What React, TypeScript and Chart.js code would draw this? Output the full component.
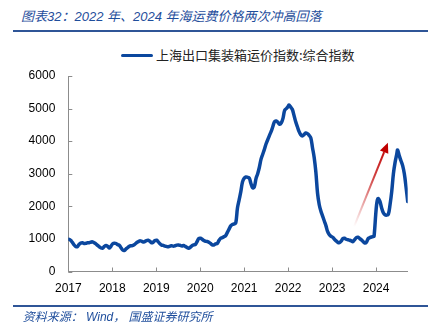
import React, { useEffect, useRef } from "react";
import { Chart, registerables } from "chart.js";

Chart.register(...registerables);

const titleText = "图表32：2022 年、2024 年海运费价格两次冲高回落";
const sourceText = "资料来源： Wind， 国盛证券研究所";
const seriesName = "上海出口集装箱运价指数:综合指数";

const yearTicks: number[] = [2017, 2018, 2019, 2020, 2021, 2022, 2023, 2024];
const valueTicks: number[] = [0, 1000, 2000, 3000, 4000, 5000, 6000];

const dates: string[] = [
  "2017-01-06", "2017-01-20", "2017-02-03", "2017-02-17", "2017-03-03", "2017-03-17", "2017-03-31", "2017-04-14",
  "2017-04-28", "2017-05-12", "2017-05-26", "2017-06-09", "2017-06-23", "2017-07-07", "2017-07-21", "2017-08-04",
  "2017-08-18", "2017-09-01", "2017-09-15", "2017-09-29", "2017-10-13", "2017-10-27", "2017-11-10", "2017-11-24",
  "2017-12-08", "2017-12-22",
  "2018-01-05", "2018-01-19", "2018-02-02", "2018-02-16", "2018-03-02", "2018-03-16", "2018-03-30", "2018-04-13",
  "2018-04-27", "2018-05-11", "2018-05-25", "2018-06-08", "2018-06-22", "2018-07-06", "2018-07-20", "2018-08-03",
  "2018-08-17", "2018-08-31", "2018-09-14", "2018-09-28", "2018-10-12", "2018-10-26", "2018-11-09", "2018-11-23",
  "2018-12-07", "2018-12-21",
  "2019-01-04", "2019-01-18", "2019-02-01", "2019-02-15", "2019-03-01", "2019-03-15", "2019-03-29", "2019-04-12",
  "2019-04-26", "2019-05-10", "2019-05-24", "2019-06-07", "2019-06-21", "2019-07-05", "2019-07-19", "2019-08-02",
  "2019-08-16", "2019-08-30", "2019-09-13", "2019-09-27", "2019-10-11", "2019-10-25", "2019-11-08", "2019-11-22",
  "2019-12-06", "2019-12-20",
  "2020-01-03", "2020-01-17", "2020-01-31", "2020-02-14", "2020-02-28", "2020-03-13", "2020-03-27", "2020-04-10",
  "2020-04-24", "2020-05-08", "2020-05-22", "2020-06-05", "2020-06-19", "2020-07-03", "2020-07-17", "2020-07-31",
  "2020-08-14", "2020-08-28", "2020-09-11", "2020-09-25", "2020-10-09", "2020-10-23", "2020-11-06", "2020-11-20",
  "2020-12-04", "2020-12-18",
  "2021-01-01", "2021-01-15", "2021-01-29", "2021-02-12", "2021-02-26", "2021-03-12", "2021-03-26", "2021-04-09",
  "2021-04-23", "2021-05-07", "2021-05-21", "2021-06-04", "2021-06-18", "2021-07-02", "2021-07-16", "2021-07-30",
  "2021-08-13", "2021-08-27", "2021-09-10", "2021-09-24", "2021-10-08", "2021-10-22", "2021-11-05", "2021-11-19",
  "2021-12-03", "2021-12-17", "2021-12-31",
  "2022-01-07", "2022-01-21", "2022-02-04", "2022-02-18", "2022-03-04", "2022-03-18", "2022-04-01", "2022-04-15",
  "2022-04-29", "2022-05-13", "2022-05-27", "2022-06-10", "2022-06-24", "2022-07-08", "2022-07-22", "2022-08-05",
  "2022-08-19", "2022-09-02", "2022-09-16", "2022-09-30", "2022-10-14", "2022-10-28", "2022-11-11", "2022-11-25",
  "2022-12-09", "2022-12-23",
  "2023-01-06", "2023-01-20", "2023-02-03", "2023-02-17", "2023-03-03", "2023-03-17", "2023-03-31", "2023-04-14",
  "2023-04-28", "2023-05-12", "2023-05-26", "2023-06-09", "2023-06-23", "2023-07-07", "2023-07-21", "2023-08-04",
  "2023-08-18", "2023-09-01", "2023-09-15", "2023-09-29", "2023-10-13", "2023-10-27", "2023-11-10", "2023-11-24",
  "2023-12-08", "2023-12-15", "2023-12-29",
  "2024-01-05", "2024-01-12", "2024-01-19", "2024-02-02", "2024-02-16", "2024-03-01", "2024-03-15", "2024-03-29",
  "2024-04-12", "2024-04-26", "2024-05-10", "2024-05-24", "2024-06-07", "2024-06-21", "2024-06-28", "2024-07-12",
  "2024-07-26", "2024-08-09", "2024-08-23", "2024-09-06", "2024-09-20",
];

const values: number[] = [
  990, 960, 900, 820, 770, 760, 830, 870,
  880, 860, 865, 880, 885, 900, 910, 880,
  850, 800, 760, 725, 715, 770, 800, 770,
  720, 780,
  850, 870, 860, 820, 800, 720, 655, 650,
  700, 740, 780, 790, 800, 830, 880, 910,
  940, 930, 905, 920, 950, 960, 930, 880,
  900, 950,
  960, 910, 850, 810, 800, 780, 765, 760,
  780, 790, 775, 790, 810, 815, 800, 785,
  795, 770, 740, 714, 745, 790, 815, 830,
  920, 1010,
  1020, 990, 950, 930, 920, 900, 860, 820,
  815, 845, 860, 950, 1020, 1040, 1070, 1100,
  1200, 1300, 1400, 1440, 1460, 1490, 1950, 2200,
  2450, 2750,
  2860, 2900, 2890, 2870, 2700, 2570, 2600, 2850,
  3000, 3200, 3450, 3600, 3750, 3920, 4050, 4180,
  4300, 4450, 4600, 4620, 4580, 4520, 4560, 4700,
  4950, 5000, 5060,
  5110, 5050, 4980, 4800, 4600, 4450, 4300, 4200,
  4160, 4200, 4250, 4230, 4180, 4100, 3800, 3500,
  3050, 2400, 2050, 1850, 1700, 1550, 1400, 1220,
  1130, 1080,
  1050, 990, 940, 895, 885, 930, 1010, 1020,
  990, 975, 960, 940, 915, 980, 1040, 1050,
  1010, 970, 920, 875, 900, 1010, 1040, 1060,
  1070, 1080, 1760,
  2050, 2200, 2240, 2150, 1950, 1800, 1740, 1730,
  1760, 2050, 2450, 3000, 3350, 3600, 3730, 3550,
  3400, 3250, 3000, 2600, 2150,
];

// Annotation arrow, in data coordinates (date, value)
const arrowFrom = { date: "2023-07-02", value: 1375 };
const arrowTo = { date: "2024-04-08", value: 3950 };

function toYear(d: string): number {
  const [y, m, dd] = d.split("-").map(Number);
  const start = Date.UTC(y, 0, 1);
  const t = Date.UTC(y, m - 1, dd);
  const len = Date.UTC(y + 1, 0, 1) - start;
  return y + (t - start) / len;
}

const LINE_COLOR = "#0B479E";
const AXIS_COLOR = "#8c8c8c";
const BLUE_TEXT = "#1F4E9C";

const innerTicksPlugin = {
  id: "innerTicks",
  beforeDatasetsDraw(chart: any) {
    const { ctx, chartArea, scales } = chart;
    ctx.save();
    ctx.strokeStyle = AXIS_COLOR;
    ctx.lineWidth = 1;
    scales.x.ticks.forEach((t: any) => {
      const px = Math.round(scales.x.getPixelForValue(t.value)) + 0.5;
      ctx.beginPath();
      ctx.moveTo(px, chartArea.bottom);
      ctx.lineTo(px, chartArea.bottom - 4);
      ctx.stroke();
    });
    scales.y.ticks.forEach((t: any) => {
      const py = Math.round(scales.y.getPixelForValue(t.value)) + 0.5;
      ctx.beginPath();
      ctx.moveTo(chartArea.left, py);
      ctx.lineTo(chartArea.left + 4, py);
      ctx.stroke();
    });
    ctx.restore();
  },
};

const arrowPlugin = {
  id: "arrowAnno",
  afterDatasetsDraw(chart: any) {
    const { ctx, scales } = chart;
    const x0 = scales.x.getPixelForValue(toYear(arrowFrom.date));
    const y0 = scales.y.getPixelForValue(arrowFrom.value);
    const x1 = scales.x.getPixelForValue(toYear(arrowTo.date));
    const y1 = scales.y.getPixelForValue(arrowTo.value);
    const ang = Math.atan2(y1 - y0, x1 - x0);
    const headLen = 10;
    const headW = 4.5;
    const bx = x1 - headLen * Math.cos(ang);
    const by = y1 - headLen * Math.sin(ang);
    const grad = ctx.createLinearGradient(x0, y0, x1, y1);
    grad.addColorStop(0, "rgba(192,0,0,0)");
    grad.addColorStop(0.6, "rgba(192,0,0,0.75)");
    grad.addColorStop(1, "rgba(192,0,0,1)");
    ctx.save();
    ctx.strokeStyle = grad;
    ctx.lineWidth = 2;
    ctx.beginPath();
    ctx.moveTo(x0, y0);
    ctx.lineTo(bx, by);
    ctx.stroke();
    ctx.fillStyle = "#C00000";
    ctx.beginPath();
    ctx.moveTo(x1, y1);
    ctx.lineTo(bx + headW * Math.sin(ang), by - headW * Math.cos(ang));
    ctx.lineTo(bx - headW * Math.sin(ang), by + headW * Math.cos(ang));
    ctx.closePath();
    ctx.fill();
    ctx.restore();
  },
};

export default function App() {
  const canvasRef = useRef<HTMLCanvasElement | null>(null);

  useEffect(() => {
    if (!canvasRef.current) return;
    const points = dates.map((d, i) => ({ x: toYear(d), y: values[i] }));
    const chart = new Chart(canvasRef.current, {
      type: "line",
      data: {
        datasets: [
          {
            label: seriesName,
            data: points,
            borderColor: LINE_COLOR,
            backgroundColor: LINE_COLOR,
            borderWidth: 3.5,
            pointRadius: 0,
            tension: 0.35,
            borderCapStyle: "round",
            borderJoinStyle: "round",
          },
        ],
      },
      options: {
        responsive: false,
        animation: false,
        events: [],
        layout: { padding: { left: 0, right: 26.3, top: 76, bottom: 26.5 } },
        plugins: {
          legend: { display: false },
          title: { display: false },
          tooltip: { enabled: false },
        },
        scales: {
          x: {
            type: "linear",
            min: 2017,
            max: toYear(dates[dates.length - 1]),
            afterBuildTicks: (scale: any) => {
              scale.ticks = yearTicks.map((v) => ({ value: v }));
            },
            afterFit: (scale: any) => {
              scale.height = 30;
            },
            grid: { display: false, drawTicks: false },
            border: { display: true, color: AXIS_COLOR, width: 1 },
            ticks: {
              padding: 10,
              color: "#000",
              font: { family: "'Liberation Sans', Arial, sans-serif", size: 12 },
              maxRotation: 0,
              autoSkip: false,
              callback: (v: any) => String(v),
            },
          },
          y: {
            type: "linear",
            min: 0,
            max: 6000,
            afterBuildTicks: (scale: any) => {
              scale.ticks = valueTicks.map((v) => ({ value: v }));
            },
            afterFit: (scale: any) => {
              scale.width = 68.3;
            },
            grid: { display: false, drawTicks: false },
            border: { display: true, color: AXIS_COLOR, width: 1 },
            ticks: {
              padding: 13,
              color: "#000",
              font: { family: "'Liberation Sans', Arial, sans-serif", size: 12 },
              callback: (v: any) => String(v),
            },
          },
        },
      },
      plugins: [innerTicksPlugin, arrowPlugin],
    } as any);
    return () => chart.destroy();
  }, []);

  const cjk = "'Liberation Sans', 'Noto Sans CJK SC', sans-serif";

  return (
    <div
      style={{
        position: "fixed",
        left: 0,
        top: 0,
        width: 434,
        height: 328,
        background: "#fff",
        overflow: "hidden",
      }}
    >
      <div
        style={{
          position: "absolute",
          left: 21,
          top: 9,
          fontFamily: cjk,
          fontStyle: "italic",
          fontSize: 13,
          lineHeight: "16px",
          color: BLUE_TEXT,
          whiteSpace: "nowrap",
        }}
      >
        {titleText}
      </div>
      <div style={{ position: "absolute", left: 13, top: 30, width: 415, height: 2, background: "#2F5597" }} />
      <div
        style={{
          position: "absolute",
          left: 121,
          top: 53.5,
          width: 32,
          height: 3.5,
          borderRadius: 2,
          background: LINE_COLOR,
        }}
      />
      <div
        style={{
          position: "absolute",
          left: 156,
          top: 47,
          fontFamily: "'Noto Sans CJK SC', sans-serif",
          fontSize: 13,
          lineHeight: "16px",
          color: "#222",
          whiteSpace: "nowrap",
        }}
      >
        {seriesName}
      </div>
      <canvas
        ref={canvasRef}
        width={434}
        height={328}
        style={{ position: "absolute", left: 0, top: 0, width: 434, height: 328 }}
      />
      <div style={{ position: "absolute", left: 13, top: 305, width: 415, height: 2, background: "#2F5597" }} />
      <div
        style={{
          position: "absolute",
          left: 22.7,
          top: 309.5,
          fontFamily: cjk,
          fontStyle: "italic",
          fontSize: 12,
          lineHeight: "14px",
          color: BLUE_TEXT,
          whiteSpace: "nowrap",
        }}
      >
        {sourceText}
      </div>
    </div>
  );
}
